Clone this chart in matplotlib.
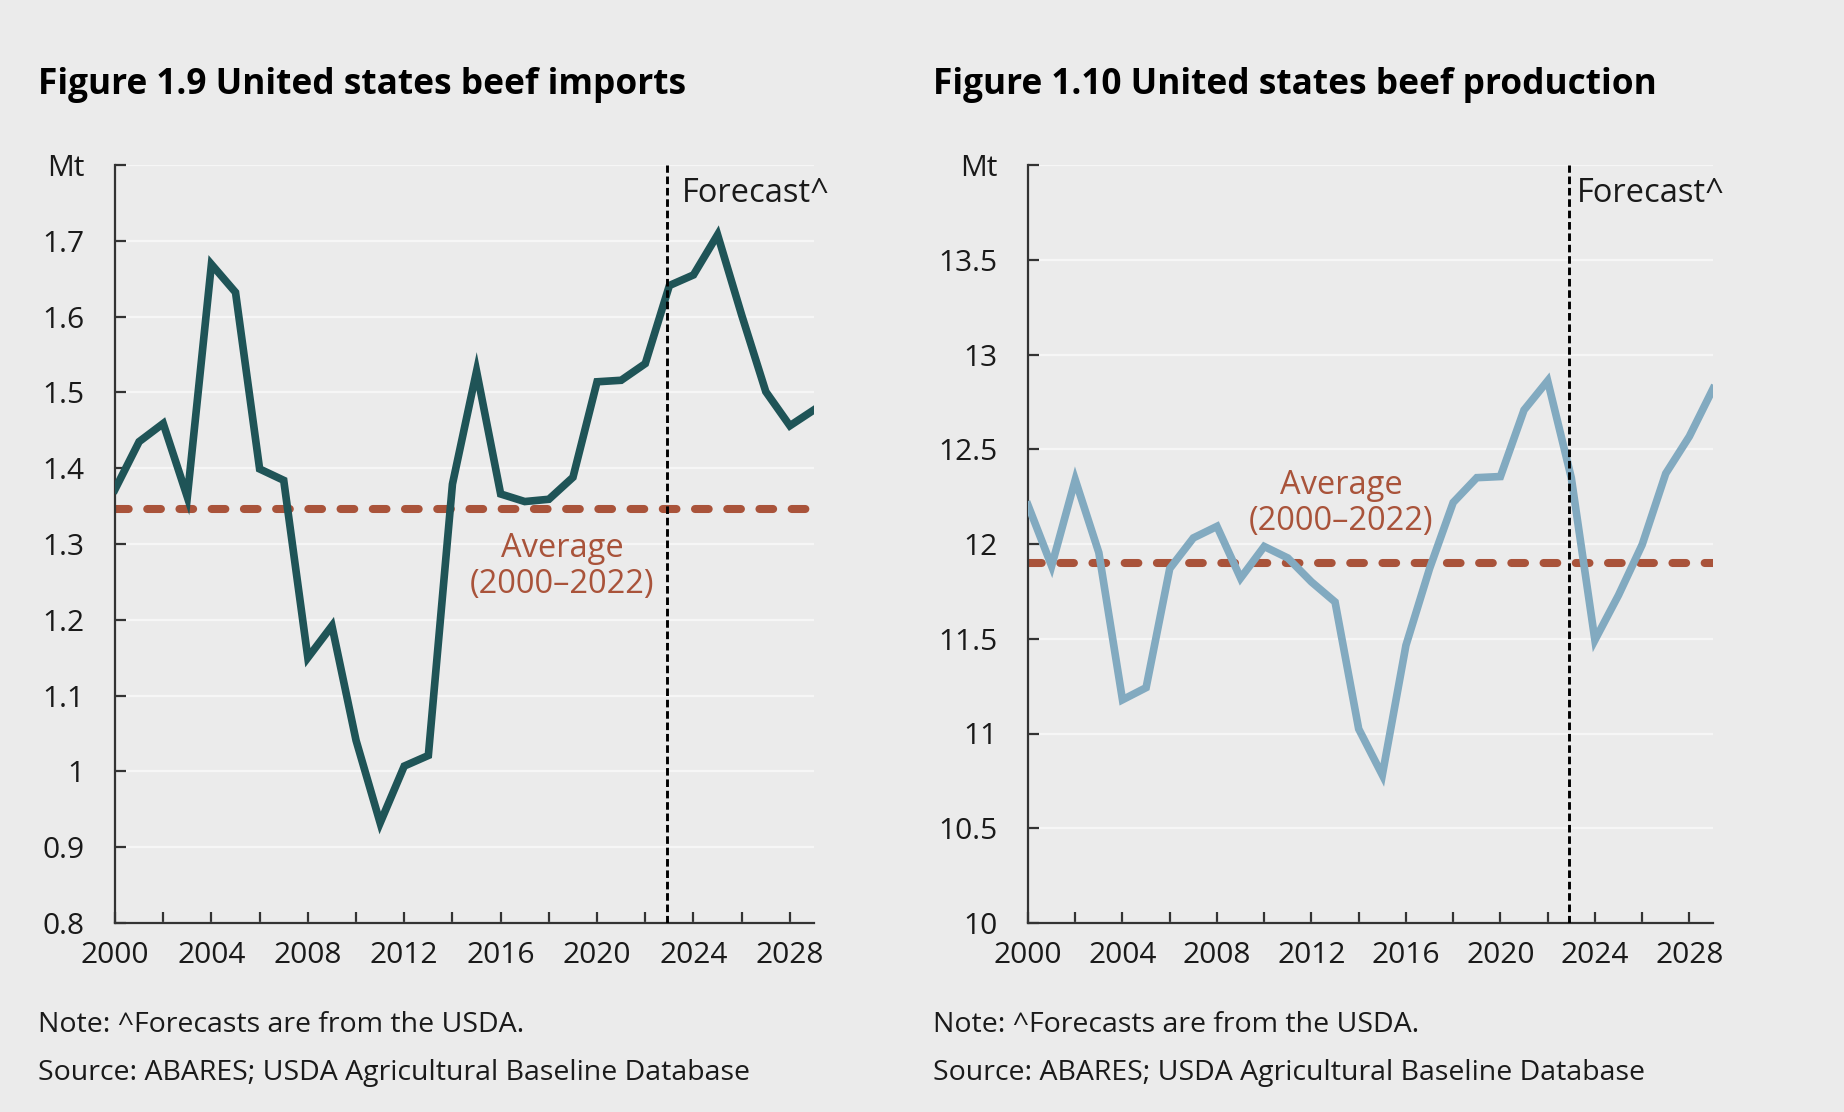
import matplotlib
matplotlib.use("Agg")
import matplotlib.pyplot as plt

plt.rcParams['font.family'] = ['Open Sans', 'DejaVu Sans']

years = list(range(2000, 2030))

imports_mt = [1.372, 1.435, 1.459, 1.362, 1.669, 1.632, 1.399, 1.384, 1.150, 1.192,
              1.041, 0.932, 1.007, 1.021, 1.379, 1.528, 1.366, 1.356, 1.359, 1.388,
              1.514, 1.516, 1.538, 1.641, 1.655, 1.708, 1.602, 1.501, 1.456, 1.477]
imports_avg = 1.346

production_mt = [12.205, 11.884, 12.339, 11.954, 11.178, 11.242, 11.870, 12.032, 12.093, 11.820,
                 11.987, 11.926, 11.800, 11.694, 11.024, 10.781, 11.465, 11.870, 12.219, 12.350,
                 12.356, 12.707, 12.861, 12.350, 11.493, 11.730, 11.996, 12.372, 12.568, 12.819]
production_avg = 11.90

forecast_start = 2022.9

imp_yticks = [0.8, 0.9, 1.0, 1.1, 1.2, 1.3, 1.4, 1.5, 1.6, 1.7, 1.8]
imp_yticklabels = ['0.8', '0.9', '1', '1.1', '1.2', '1.3', '1.4', '1.5', '1.6', '1.7', 'Mt']
prod_yticks = [10, 10.5, 11, 11.5, 12, 12.5, 13, 13.5, 14]
prod_yticklabels = ['10', '10.5', '11', '11.5', '12', '12.5', '13', '13.5', 'Mt']
xtick_labels = [2000, 2004, 2008, 2012, 2016, 2020, 2024, 2028]

titles = ["Figure 1.9 United states beef imports", "Figure 1.10 United states beef production"]
note_text = "Note: ^Forecasts are from the USDA."
source_text = "Source: ABARES; USDA Agricultural Baseline Database"

BG = '#EBEBEB'
W, H = 1844, 1112
fig = plt.figure(figsize=(W / 100, H / 100), dpi=100, facecolor=BG)

def px_axes(x0, x1, y0, y1):
    return fig.add_axes([x0 / W, 1 - y1 / H, (x1 - x0) / W, (y1 - y0) / H])

ax1 = px_axes(115, 814, 165, 923)
ax2 = px_axes(1028, 1713, 165, 923)

AVG_COL = '#A9533A'
TXT = '#1a1a1a'

def style(ax, yticks, ylabels, ylim):
    ax.set_facecolor(BG)
    ax.set_xlim(2000, 2029)
    ax.set_ylim(*ylim)
    ax.set_yticks(yticks)
    ax.set_yticklabels(ylabels)
    ax.set_xticks(list(range(2000, 2030, 2)))
    ax.set_xticklabels([str(y) if y in xtick_labels else '' for y in range(2000, 2030, 2)])
    for s in ['top', 'right']:
        ax.spines[s].set_visible(False)
    for s in ['left', 'bottom']:
        ax.spines[s].set_color('#333333')
        ax.spines[s].set_linewidth(1.6)
    ax.tick_params(axis='y', direction='in', length=8, width=1.6, color='#333333',
                   labelsize=21.5, pad=22, labelcolor=TXT)
    ax.tick_params(axis='x', direction='in', length=8, width=1.6, color='#333333',
                   labelsize=21.5, pad=13, labelcolor=TXT)
    ax.grid(axis='y', color='#F6F6F6', linewidth=1.6)
    ax.set_axisbelow(True)

style(ax1, imp_yticks, imp_yticklabels, (0.8, 1.8))
style(ax2, prod_yticks, prod_yticklabels, (10, 14))

ax1.plot(years, imports_mt, color='#1F5457', linewidth=5.5, solid_joinstyle='miter', zorder=3)
ax2.plot(years, production_mt, color='#82AAC0', linewidth=5.5, solid_joinstyle='miter', zorder=3)

for ax, avg in [(ax1, imports_avg), (ax2, production_avg)]:
    ax.plot([2000, 2029], [avg, avg], color=AVG_COL, linewidth=5.8,
            linestyle=(0, (1.7, 2.3)), dash_capstyle='round', zorder=2)
    ax.axvline(forecast_start, color='black', linewidth=2.1, linestyle=(0, (2.6, 1.3)), zorder=4)

ax1.text(2023.5, 1.762, 'Forecast^', fontsize=23.5, color=TXT, ha='left', va='center')
ax2.text(2023.25, 13.85, 'Forecast^', fontsize=23.5, color=TXT, ha='left', va='center')
ax1.text(2018.55, 1.27, 'Average\n(2000\u20132022)', fontsize=23.5, color=AVG_COL,
         ha='center', va='center', linespacing=1.1)
ax2.text(2013.25, 12.215, 'Average\n(2000\u20132022)', fontsize=23.5, color=AVG_COL,
         ha='center', va='center', linespacing=1.1)

for x0, title in zip([38, 933], titles):
    fig.text(x0 / W, 1 - 94 / H, title, fontsize=25.4, fontweight='bold', color='black',
             ha='left', va='baseline')
    fig.text(x0 / W, 1 - 1025 / H, note_text, fontsize=20.5, color=TXT, ha='left', va='center')
    fig.text(x0 / W, 1 - 1073 / H, source_text, fontsize=20.5, color=TXT, ha='left', va='center')

fig.savefig('out.png', dpi=100, facecolor=BG)
